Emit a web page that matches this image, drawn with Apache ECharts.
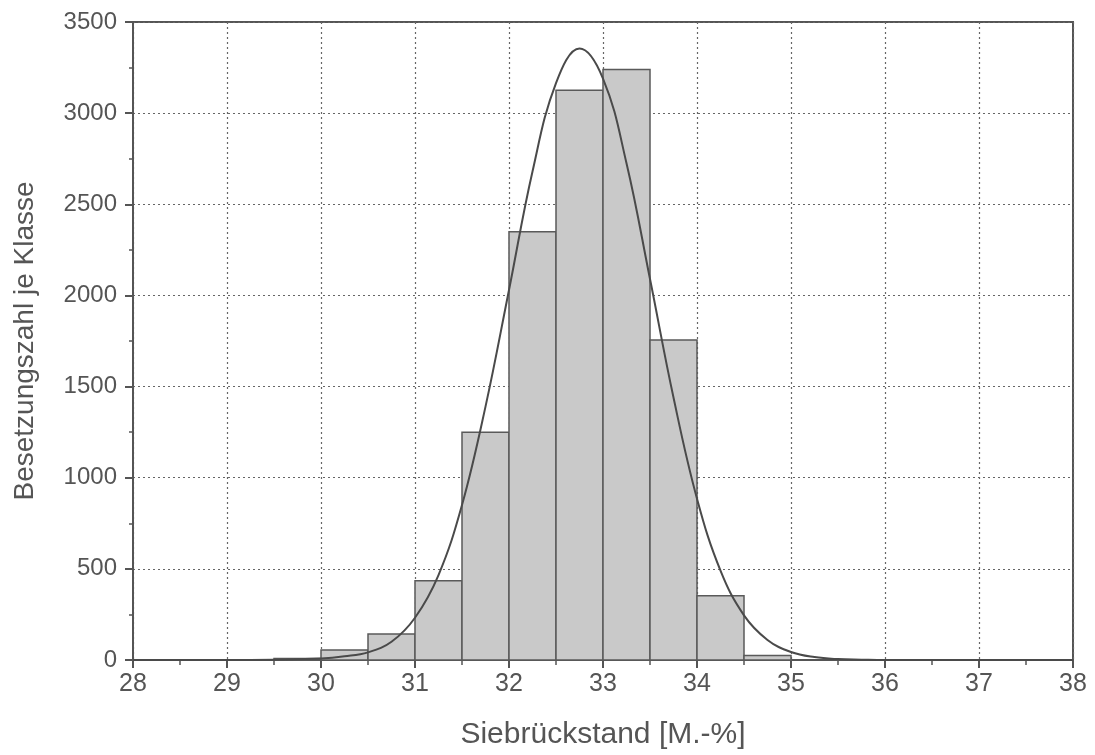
<!DOCTYPE html>
<html>
<head>
<meta charset="utf-8">
<script src="https://cdn.jsdelivr.net/npm/echarts@6/dist/echarts.min.js"></script>
<style>
  html, body { margin: 0; padding: 0; background: #fff; }
  #main { width: 1095px; height: 755px; }
</style>
</head>
<body>
<div id="main"></div>
<script>
// Klassen (Siebrückstand), Breite 0.5 M.-%
var binStart = [29.5, 30, 30.5, 31, 31.5, 32, 32.5, 33, 33.5, 34, 34.5];
var binEnd = [30, 30.5, 31, 31.5, 32, 32.5, 33, 33.5, 34, 34.5, 35];
var counts = [8, 55, 143, 435, 1250, 2350, 3125, 3240, 1755, 353, 25];

// Dichtekurve
var curveX = [28, 29, 29.5, 30, 30.25, 30.5, 30.75, 31, 31.25, 31.5, 31.75, 32, 32.25, 32.5, 32.75,
  33, 33.25, 33.5, 33.75, 34, 34.25, 34.5, 34.75, 35, 35.25, 35.5, 35.75, 36, 38];
var curveY = [0, 0, 2, 8, 20, 42, 100, 232, 466, 850, 1390, 2030, 2680, 3165, 3355,
  3190, 2725, 2090, 1440, 885, 490, 245, 110, 44, 16, 5, 2, 0, 0];

var axisColor = '#555';
var plainNum = function (v) { return String(v); };

var histData = binStart.map(function (s, i) { return [s, binEnd[i], counts[i]]; });
var curveData = curveX.map(function (x, i) { return [x, curveY[i]]; });

var myChart = echarts.init(document.getElementById('main'));
myChart.setOption({
  animation: false,
  backgroundColor: '#fff',
  grid: {
    left: 133, right: 22, top: 22, bottom: 95,
    show: true, borderColor: axisColor, borderWidth: 2
  },
  xAxis: {
    type: 'value', min: 28, max: 38, interval: 1,
    name: 'Siebrückstand [M.-%]', nameLocation: 'middle', nameGap: 60,
    nameTextStyle: { color: '#555', fontSize: 30, fontFamily: 'Liberation Sans' },
    axisLine: { show: true, onZero: false, lineStyle: { color: axisColor, width: 2 } },
    axisTick: { show: true, length: 8, lineStyle: { color: axisColor, width: 2 } },
    minorTick: { show: true, splitNumber: 2, length: 5, lineStyle: { color: axisColor, width: 1.5 } },
    axisLabel: { margin: 12, color: '#555', fontSize: 25, fontFamily: 'Liberation Sans', formatter: plainNum },
    splitLine: { show: true, lineStyle: { color: '#666', type: [2, 3], width: 1.2 } }
  },
  yAxis: {
    type: 'value', min: 0, max: 3500, interval: 500,
    name: 'Besetzungszahl je Klasse', nameLocation: 'middle', nameGap: 94,
    nameTextStyle: { color: '#555', fontSize: 28, fontFamily: 'Liberation Sans' },
    axisLine: { show: true, lineStyle: { color: axisColor, width: 2 } },
    axisTick: { show: true, length: 8, lineStyle: { color: axisColor, width: 2 } },
    minorTick: { show: true, splitNumber: 2, length: 4, lineStyle: { color: axisColor, width: 1.5 } },
    axisLabel: { margin: 16, color: '#555', fontSize: 24, fontFamily: 'Liberation Sans', formatter: plainNum },
    splitLine: { show: true, lineStyle: { color: '#666', type: [2, 3], width: 1.2 } }
  },
  series: [
    {
      type: 'custom',
      data: histData,
      renderItem: function (params, api) {
        var p0 = api.coord([api.value(0), api.value(2)]);
        var p1 = api.coord([api.value(1), 0]);
        return {
          type: 'rect',
          shape: { x: p0[0], y: p0[1], width: p1[0] - p0[0], height: p1[1] - p0[1] },
          style: { fill: '#c9c9c9', stroke: '#5a5a5a', lineWidth: 1.5 }
        };
      },
      encode: { x: [0, 1], y: 2 },
      z: 2
    },
    {
      type: 'line',
      data: curveData,
      smooth: 0.4,
      showSymbol: false,
      lineStyle: { color: '#4a4a4a', width: 2 },
      z: 3
    }
  ]
});
</script>
</body>
</html>
